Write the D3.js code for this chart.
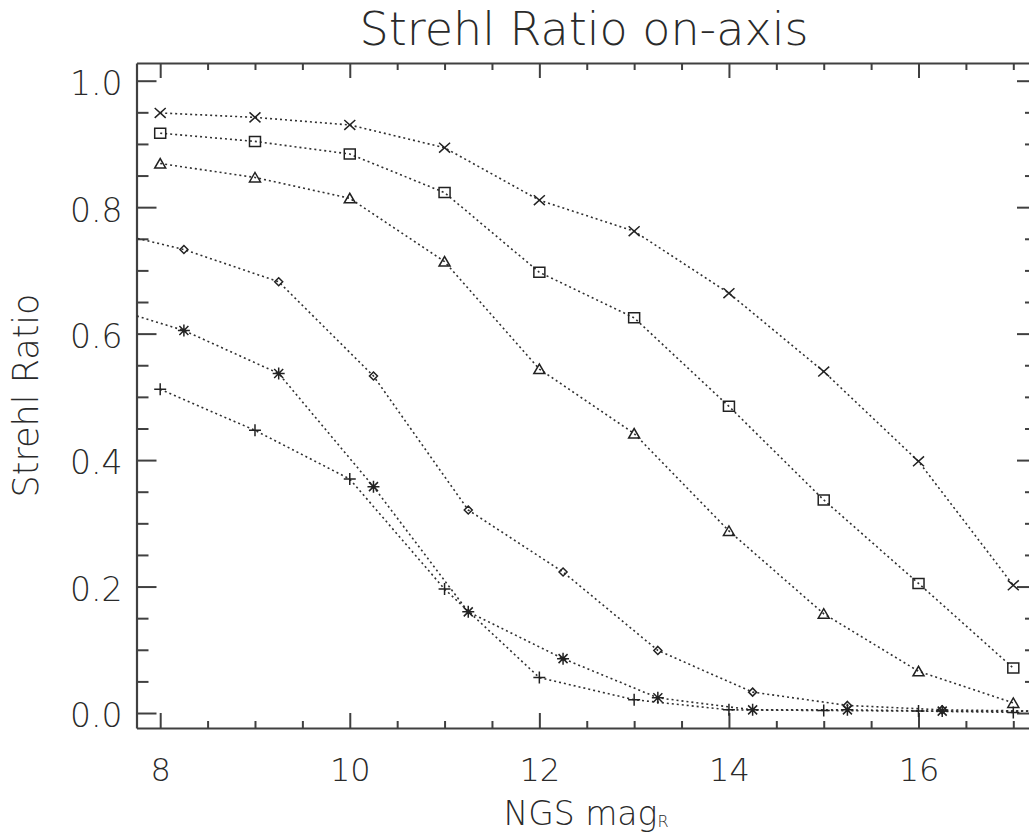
<!DOCTYPE html>
<html>
<head>
<meta charset="utf-8">
<script src="https://cdn.jsdelivr.net/npm/d3@7/dist/d3.min.js"></script>
<style>
  html, body { margin: 0; padding: 0; background: #fff; }
  svg text { font-family: "DejaVu Sans", sans-serif; font-weight: 200; fill: #2a2a2a; }
</style>
</head>
<body>
<svg id="chart" width="1029" height="838"></svg>
<script>
// ---- data ----
const magsInt = [8, 9, 10, 11, 12, 13, 14, 15, 16, 17];
const magsOff = [7.25, 8.25, 9.25, 10.25, 11.25, 12.25, 13.25, 14.25, 15.25, 16.25, 17.25];

const crossVals    = [0.949, 0.942, 0.930, 0.894, 0.811, 0.762, 0.664, 0.540, 0.398, 0.202];
const squareVals   = [0.917, 0.904, 0.884, 0.823, 0.697, 0.625, 0.485, 0.337, 0.205, 0.071];
const triangleVals = [0.869, 0.847, 0.814, 0.714, 0.544, 0.442, 0.288, 0.157, 0.066, 0.016];
const plusVals     = [0.512, 0.447, 0.370, 0.196, 0.056, 0.021, 0.005, 0.004, 0.003, 0.001];
const diamondVals  = [0.769, 0.733, 0.682, 0.533, 0.321, 0.223, 0.099, 0.033, 0.012, 0.005, 0.003];
const starVals     = [0.651, 0.605, 0.537, 0.358, 0.160, 0.086, 0.024, 0.005, 0.005, 0.003, 0.003];

const xMajorTicks = [8, 10, 12, 14, 16];
const yMajorTicks = [0.0, 0.2, 0.4, 0.6, 0.8, 1.0];

const titleText = "Strehl Ratio on-axis";
const yLabelText = "Strehl Ratio";
const xLabelMain = "NGS mag";
const xLabelSub = "R";

const series = [
  { xs: magsInt, ys: crossVals, sym: "cross" },
  { xs: magsInt, ys: squareVals, sym: "square" },
  { xs: magsInt, ys: triangleVals, sym: "triangle" },
  { xs: magsOff, ys: diamondVals, sym: "diamond" },
  { xs: magsOff, ys: starVals, sym: "asterisk" },
  { xs: magsInt, ys: plusVals, sym: "plus" }
];

// ---- layout ----
const svg = d3.select("#chart");
const L = 136.5, R = 1037, T = 63, B = 728;
const x = d3.scaleLinear().domain([7.75, 17.25]).range([L, R]);
const y = d3.scaleLinear().domain([-0.0237, 1.028]).range([B, T]);

const axisColor = "#404040";

svg.append("defs").append("clipPath").attr("id", "plotclip")
  .append("rect").attr("x", L).attr("y", T).attr("width", R - L).attr("height", B - T);

const xMinor = d3.range(8, 17.26, 0.5).filter(v => !xMajorTicks.includes(v));
const yMinor = d3.range(0, 1.001, 0.05).map(v => +v.toFixed(2)).filter(v => !yMajorTicks.some(t => Math.abs(t - v) < 1e-6));

function styleAxis(g) {
  g.selectAll("path.domain").attr("stroke", axisColor).attr("stroke-width", 2.2);
  g.selectAll(".tick line").attr("stroke", axisColor).attr("stroke-width", 2);
  g.selectAll(".tick text").attr("fill", "#2a2a2a");
}

// bottom axis
const gB = svg.append("g").attr("transform", `translate(0,${B})`)
  .call(d3.axisBottom(x).tickValues(xMajorTicks).tickSize(-15).tickSizeOuter(0).tickPadding(30).tickFormat(d3.format("d")));
gB.selectAll(".tick text").attr("font-size", 32).attr("font-family", null);
styleAxis(gB);
const gBm = svg.append("g").attr("transform", `translate(0,${B})`)
  .call(d3.axisBottom(x).tickValues(xMinor).tickSize(-7).tickSizeOuter(0).tickFormat(""));
gBm.select("path.domain").remove();
styleAxis(gBm);

// top axis
const gT = svg.append("g").attr("transform", `translate(0,${T})`)
  .call(d3.axisTop(x).tickValues(xMajorTicks).tickSize(-15).tickSizeOuter(0).tickFormat(""));
styleAxis(gT);
const gTm = svg.append("g").attr("transform", `translate(0,${T})`)
  .call(d3.axisTop(x).tickValues(xMinor).tickSize(-7).tickSizeOuter(0).tickFormat(""));
gTm.select("path.domain").remove();
styleAxis(gTm);

// left axis
const gL = svg.append("g").attr("transform", `translate(${L},0)`)
  .call(d3.axisLeft(y).tickValues(yMajorTicks).tickSize(-20).tickSizeOuter(0).tickPadding(14).tickFormat(d3.format(".1f")));
gL.selectAll(".tick text").attr("font-size", 33).attr("font-family", null).attr("dy", "0.42em");
styleAxis(gL);
const gLm = svg.append("g").attr("transform", `translate(${L},0)`)
  .call(d3.axisLeft(y).tickValues(yMinor).tickSize(-12).tickSizeOuter(0).tickFormat(""));
gLm.select("path.domain").remove();
styleAxis(gLm);

// right axis
const gR = svg.append("g").attr("transform", `translate(${R},0)`)
  .call(d3.axisRight(y).tickValues(yMajorTicks).tickSize(-20).tickSizeOuter(0).tickFormat(""));
styleAxis(gR);
const gRm = svg.append("g").attr("transform", `translate(${R},0)`)
  .call(d3.axisRight(y).tickValues(yMinor).tickSize(-12).tickSizeOuter(0).tickFormat(""));
gRm.select("path.domain").remove();
styleAxis(gRm);

// ---- lines ----
const line = d3.line().x(d => x(d[0])).y(d => y(d[1]));
const plot = svg.append("g").attr("clip-path", "url(#plotclip)");
series.forEach(s => {
  const pts = s.xs.map((v, i) => [v, s.ys[i]]);
  plot.append("path").attr("d", line(pts))
    .attr("fill", "none").attr("stroke", "#303030").attr("stroke-width", 1.6)
    .attr("stroke-dasharray", "2,3");
});

// ---- markers ----
function symPath(type, cx, cy) {
  const p = d3.path();
  const s = 5.5;
  switch (type) {
    case "cross":
      p.moveTo(cx - s, cy - s * 0.9); p.lineTo(cx + s, cy + s * 0.9);
      p.moveTo(cx - s, cy + s * 0.9); p.lineTo(cx + s, cy - s * 0.9);
      break;
    case "square":
      p.rect(cx - 5.5, cy - 5, 11, 10);
      break;
    case "triangle":
      p.moveTo(cx - 5.5, cy + 4.5); p.lineTo(cx + 5.5, cy + 4.5); p.lineTo(cx, cy - 5); p.closePath();
      break;
    case "diamond":
      p.moveTo(cx, cy - 4); p.lineTo(cx + 4, cy); p.lineTo(cx, cy + 4); p.lineTo(cx - 4, cy); p.closePath();
      break;
    case "asterisk": {
      const r = 6;
      p.moveTo(cx - r, cy); p.lineTo(cx + r, cy);
      p.moveTo(cx, cy - r); p.lineTo(cx, cy + r);
      const q = r * 0.75;
      p.moveTo(cx - q, cy - q); p.lineTo(cx + q, cy + q);
      p.moveTo(cx - q, cy + q); p.lineTo(cx + q, cy - q);
      break;
    }
    case "plus":
      p.moveTo(cx - 6, cy); p.lineTo(cx + 6, cy);
      p.moveTo(cx, cy - 6); p.lineTo(cx, cy + 6);
      break;
  }
  return p.toString();
}
series.forEach(s => {
  s.xs.forEach((v, i) => {
    if (v < 7.75 || v > 17.25) return;
    plot.append("path").attr("d", symPath(s.sym, x(v), y(s.ys[i])))
      .attr("fill", "none").attr("stroke", "#222").attr("stroke-width", 1.5);
  });
});

// ---- titles ----
svg.append("text").attr("x", 584).attr("y", 45).attr("text-anchor", "middle")
  .attr("font-size", 46).text(titleText);

svg.append("text").attr("transform", `translate(38,${(T + B) / 2}) rotate(-90)`)
  .attr("text-anchor", "middle").attr("font-size", 35).text(yLabelText);

const xl = svg.append("text").attr("x", 586).attr("y", 825).attr("text-anchor", "middle").attr("font-size", 33);
xl.append("tspan").text(xLabelMain);
xl.append("tspan").attr("font-size", 16).attr("dy", 2).text(xLabelSub);
</script>
</body>
</html>
